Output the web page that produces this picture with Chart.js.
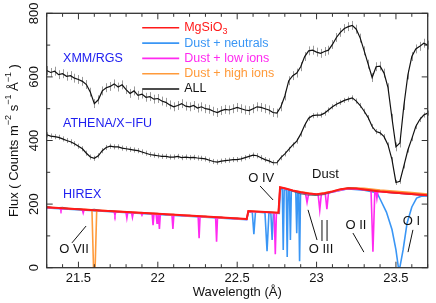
<!DOCTYPE html>
<html><head><meta charset="utf-8">
<script src="https://cdn.jsdelivr.net/npm/chart.js@4"></script>
<style>html,body{margin:0;padding:0;background:#fff}canvas{display:block}</style>
</head><body>
<canvas id="c" width="436" height="303"></canvas>
<script>
const FONT = '"Liberation Sans", Arial, sans-serif';

// wavelength grid (Å) of the low-resolution spectra
const wl = [21.300,21.325,21.350,21.375,21.400,21.425,21.450,21.475,21.500,21.525,21.550,21.575,21.600,21.625,21.650,21.675,21.700,21.725,21.750,21.775,21.800,21.825,21.850,21.875,21.900,21.925,21.950,21.975,22.000,22.025,22.050,22.075,22.100,22.125,22.150,22.175,22.200,22.225,22.250,22.275,22.300,22.325,22.350,22.375,22.400,22.425,22.450,22.475,22.500,22.525,22.550,22.575,22.600,22.625,22.650,22.675,22.700,22.725,22.750,22.775,22.800,22.825,22.850,22.875,22.900,22.925,22.950,22.975,23.000,23.025,23.050,23.075,23.100,23.125,23.150,23.175,23.200,23.225,23.250,23.275,23.300,23.325,23.350,23.375,23.400,23.425,23.450,23.475,23.500,23.525,23.550,23.575,23.600,23.625,23.650,23.675,23.700];

const xmmFlux = [620,614,618,607,610,602,604,596,592,586,576,552,516,528,556,566,570,578,568,575,560,548,556,542,546,536,538,530,532,524,520,512,506,510,516,508,506,510,502,506,500,498,492,488,494,498,496,500,504,500,496,494,500,506,504,500,496,488,486,506,540,588,604,612,632,664,682,684,678,674,680,684,702,724,740,752,758,762,750,722,682,640,598,632,634,612,566,470,380,392,510,606,664,688,696,706,700];
const xmmErr = 14;

const athenaFlux = [418,414,412,410,405,400,396,390,382,374,360,348,344,352,368,378,382,380,380,376,374,372,370,368,364,360,356,354,352,350,350,348,348,350,346,348,346,347,345,344,342,338,334,332,335,337,338,340,340,342,346,350,354,352,346,340,336,330,330,346,358,372,386,398,420,448,470,478,480,480,486,496,506,514,520,526,530,534,524,510,492,472,444,428,424,412,386,340,268,272,320,370,406,444,466,480,486];
const athenaErr = 8;

// HIREX models
const mgsio3X = [21.3,21.6,22.0,22.3,22.56,22.57,22.76,22.77,22.8,22.85,22.9,22.95,23.0,23.05,23.1,23.15,23.2,23.25,23.3,23.4,23.5,23.6,23.7];
const mgsio3Y = [190,181,170,161,153,178,173,253,250,243,237,233,231,234,240,247,250,249,246,240,236,232,228];

const neutralsX = [21.3,22.56,22.57,22.595,22.605,22.615,22.675,22.688,22.70,22.712,22.72,22.728,22.765,22.772,22.784,22.79,22.796,22.809,22.815,22.821,22.829,22.835,22.841,22.869,22.875,22.881,22.887,22.893,22.899,23.0,23.1,23.2,23.3,23.38,23.40,23.44,23.475,23.50,23.515,23.525,23.545,23.57,23.60,23.63,23.66,23.70];
const neutralsY = [188,151,175,175,105,175,173,52,173,172,87,172,171,248,247,56,246,245,34,244,243,87,242,239,108,238,237,20,236,229,238,248,244,236,216,175,120,56,2,2,56,140,191,219,225,226];

const lowIonsX = [21.30,21.384,21.39,21.396,21.524,21.53,21.536,21.724,21.73,21.736,21.799,21.805,21.811,21.834,21.84,21.846,21.894,21.90,21.906,21.964,21.97,21.976,21.989,21.995,22.001,22.004,22.01,22.016,22.089,22.095,22.101,22.254,22.26,22.266,22.364,22.37,22.376,22.56,22.57,22.733,22.74,22.747,22.76,22.77,22.85,22.93,22.94,22.95,23.01,23.02,23.03,23.055,23.065,23.075,23.2,23.3,23.343,23.355,23.367,23.374,23.38,23.386,23.5,23.6,23.7];
const lowIonsY = [189,187,180,187,183,172,183,177,165,177,175,156,175,174,158,174,172,165,172,170,134,170,169,140,169,169,122,169,166,122,166,161,93,161,158,82,158,152,177,173,42,172,172,252,242,234,205,232,230,181,231,233,184,235,249,245,243,50,242,241,218,240,235,231,227];

const highIonsX = [21.3,21.585,21.595,21.605,21.615,22.56,22.57,22.76,22.77,22.85,23.0,23.1,23.2,23.3,23.4,23.5,23.6,23.7];
const highIonsY = [190,182,0,0,181,153,178,173,253,243,231,240,251,250,244,240,236,232];

const allX = [21.30,21.35,21.40,21.45,21.50,21.55,21.60,21.65,21.70,21.75,21.80,21.85,21.90,21.95,22.00,22.05,22.10,22.15,22.20,22.25,22.30,22.35,22.40,22.45,22.50,22.56,22.57,22.60,22.65,22.70,22.76,22.77,22.80,22.85,22.90,22.95,23.00,23.05,23.10,23.15,23.20,23.25,23.30,23.35,23.40,23.45,23.50,23.55,23.60,23.65,23.70];
const allY = [193,188,190,185,186,181,184,179,180,176,177,173,174,171,171,167,168,164,165,161,162,158,159,155,156,152,177,177,176,175,173,250,249,240,232,228,227,230,238,246,251,250,246,243,240,236,234,232,230,228,227];

// axes
const xMajor = [21.5,22,22.5,23,23.5];
const xMajorLabels = ['21.5','22','22.5','23','23.5'];
const xMinor = [21.3,21.4,21.6,21.7,21.8,21.9,22.1,22.2,22.3,22.4,22.6,22.7,22.8,22.9,23.1,23.2,23.3,23.4,23.6,23.7];
const yMajor = [0,200,400,600,800];
const yMajorLabels = ['0','200','400','600','800'];
const yMinor = [100,300,500,700];

const legendNames = ['MgSiO3','Dust + neutrals','Dust + low ions','Dust + high ions','ALL'];
const C = {red:'#ff1a1a', blue:'#3a96f5', mag:'#ff2af0', orange:'#ff9a3a', black:'#111', grey:'#9a9a9a', label:'#2020f0'};

const pts = (xs, ys) => xs.map((x,i)=>({x, y: ys[i]}));

const annotations = [
  {t:'O IV', x:22.651, y:281, line:[[22.644,257],[22.726,213]]},
  {t:'Dust', x:23.056, y:292},
  {t:'O III', x:23.028, y:56, line:[[22.946,182],[23.003,87]], extra:[[[23.034,150],[23.034,84]],[[23.066,150],[23.066,84]]]},
  {t:'O II', x:23.248, y:134, line:[[23.229,109],[23.298,49]]},
  {t:'O I', x:23.598, y:144, line:[[23.607,119],[23.576,49]]},
  {t:'O VII', x:21.472, y:56, line:[[21.459,78],[21.548,131]]}
];
const panelLabels = [
  {t:'XMM/RGS', x:21.403, y:659},
  {t:'ATHENA/X\u2212IFU', x:21.403, y:452},
  {t:'HIREX', x:21.403, y:231}
];

const errPlugin = {
  id:'err',
  beforeDatasetsDraw(chart){
    const {ctx, scales:{x,y}} = chart;
    ctx.save();
    ctx.strokeStyle = C.grey; ctx.lineWidth = 1;
    const bars = (vals, e) => {
      ctx.beginPath();
      vals.forEach((v,i)=>{
        const px = Math.round(x.getPixelForValue(wl[i]))+0.5;
        ctx.moveTo(px, y.getPixelForValue(v+e));
        ctx.lineTo(px, y.getPixelForValue(v-e));
      });
      ctx.stroke();
    };
    bars(xmmFlux, xmmErr);
    bars(athenaFlux, athenaErr);
    ctx.restore();
  }
};

function richWidth(ctx, pieces){
  let w=0; pieces.forEach(p=>{ctx.font=p.f; w+=ctx.measureText(p.s).width;}); return w;
}
function drawRich(ctx, pieces, x, y, align){
  let w = richWidth(ctx, pieces);
  let cx = align==='center' ? x - w/2 : x;
  pieces.forEach(p=>{ ctx.font=p.f; ctx.fillText(p.s, cx, y + (p.dy||0)); cx += ctx.measureText(p.s).width; });
}

const decoPlugin = {
  id:'deco',
  afterDraw(chart){
    const {ctx, chartArea:a, scales:{x,y}} = chart;
    ctx.save();
    // frame
    ctx.strokeStyle = '#333'; ctx.lineWidth = 1.3;
    ctx.strokeRect(a.left, a.top, a.right-a.left, a.bottom-a.top);
    // ticks (inward)
    ctx.lineWidth = 1;
    ctx.beginPath();
    const xt = (v,len)=>{const p=x.getPixelForValue(v); ctx.moveTo(p,a.bottom); ctx.lineTo(p,a.bottom-len); ctx.moveTo(p,a.top); ctx.lineTo(p,a.top+len);};
    const yt = (v,len)=>{const p=y.getPixelForValue(v); ctx.moveTo(a.left,p); ctx.lineTo(a.left+len,p); ctx.moveTo(a.right,p); ctx.lineTo(a.right-len,p);};
    xMajor.forEach(v=>xt(v,6)); xMinor.forEach(v=>xt(v,3.5));
    yMajor.forEach(v=>yt(v,6)); yMinor.forEach(v=>yt(v,3.5));
    ctx.stroke();
    // x labels
    ctx.fillStyle = '#111';
    ctx.font = '13px '+FONT; ctx.textAlign='center'; ctx.textBaseline='middle';
    xMajor.forEach((v,i)=>ctx.fillText(xMajorLabels[i], x.getPixelForValue(v), a.bottom+11));
    ctx.fillText('Wavelength (\u00C5)', (a.left+a.right)/2, a.bottom+25);
    // y labels rotated
    yMajor.forEach((v,i)=>{
      ctx.save(); ctx.translate(a.left-12.5, y.getPixelForValue(v)); ctx.rotate(-Math.PI/2);
      ctx.fillText(yMajorLabels[i], 0, 0); ctx.restore();
    });
    // y title
    ctx.save(); ctx.translate(14, (a.top+a.bottom)/2); ctx.rotate(-Math.PI/2);
    ctx.textAlign='left';
    const N='13px '+FONT, S='9px '+FONT;
    drawRich(ctx, [{s:'Flux ( Counts m',f:N},{s:'\u22122',f:S,dy:-5},{s:' s',f:N},{s:'\u22121',f:S,dy:-5},{s:' \u00C5',f:N},{s:'\u22121',f:S,dy:-5},{s:' )',f:N}], 0, 0, 'center');
    ctx.restore();
    // panel labels
    ctx.fillStyle = C.label; ctx.font='12.5px '+FONT; ctx.textAlign='left';
    panelLabels.forEach(p=>ctx.fillText(p.t, x.getPixelForValue(p.x), y.getPixelForValue(p.y)));
    // annotations
    ctx.fillStyle='#111'; ctx.strokeStyle='#111'; ctx.lineWidth=1; ctx.font='13px '+FONT; ctx.textAlign='center';
    annotations.forEach(an=>{
      ctx.fillText(an.t, x.getPixelForValue(an.x), y.getPixelForValue(an.y));
      const segs = [];
      if(an.line) segs.push(an.line);
      if(an.extra) an.extra.forEach(s=>segs.push(s));
      segs.forEach(s=>{ctx.beginPath(); ctx.moveTo(x.getPixelForValue(s[0][0]), y.getPixelForValue(s[0][1])); ctx.lineTo(x.getPixelForValue(s[1][0]), y.getPixelForValue(s[1][1])); ctx.stroke();});
    });
    // legend
    const cols = [C.red, C.blue, C.mag, C.orange, C.black];
    ctx.textAlign='left';
    legendNames.forEach((n,i)=>{
      const ly = a.top + 14.5 + i*15.3;
      const lx0 = a.left + 95.5, lx1 = a.left + 132.5;
      ctx.strokeStyle = cols[i]; ctx.lineWidth = 1.6;
      ctx.beginPath(); ctx.moveTo(lx0, ly); ctx.lineTo(lx1, ly); ctx.stroke();
      ctx.fillStyle = cols[i];
      ctx.font='12.5px '+FONT;
      if(n==='MgSiO3'){
        drawRich(ctx, [{s:'MgSiO',f:'12.5px '+FONT},{s:'3',f:'9px '+FONT,dy:4}], lx1+5, ly, 'left');
      } else ctx.fillText(n, lx1+5, ly);
    });
    ctx.restore();
  }
};

const ds = (label, data, color, w) => ({label, data, borderColor:color, borderWidth:w, pointRadius:0, tension:0, fill:false});

new Chart(document.getElementById('c'), {
  type:'line',
  data:{datasets:[
    ds('MgSiO3', pts(mgsio3X, mgsio3Y), C.red, 2),
    ds('ALL (HIREX)', pts(allX, allY), '#555', 0.8),
    ds('Dust + high ions', pts(highIonsX, highIonsY), C.orange, 1.6),
    ds('Dust + low ions', pts(lowIonsX, lowIonsY), C.mag, 1.6),
    ds('Dust + neutrals', pts(neutralsX, neutralsY), C.blue, 1.6),
    ds('XMM/RGS', pts(wl, xmmFlux), C.black, 1.2),
    ds('ATHENA/X-IFU', pts(wl, athenaFlux), C.black, 1.2)
  ]},
  options:{
    responsive:false, animation:false, devicePixelRatio:1,
    layout:{padding:{left:46.7, right:8.3, top:13.3, bottom:35.3}},
    plugins:{legend:{display:false}, tooltip:{enabled:false}},
    scales:{
      x:{type:'linear', min:21.3, max:23.7, display:false},
      y:{type:'linear', min:0, max:800, display:false}
    }
  },
  plugins:[errPlugin, decoPlugin]
});
</script>
</body></html>
